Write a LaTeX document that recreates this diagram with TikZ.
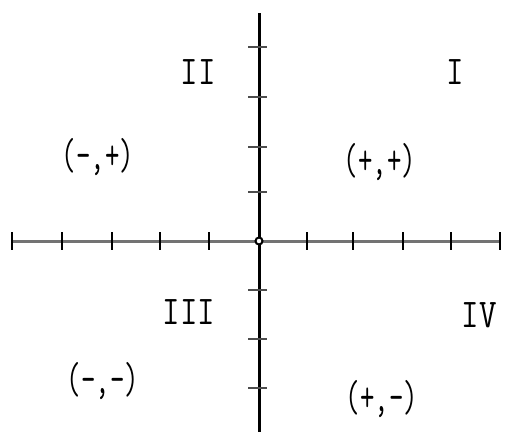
\documentclass[tikz,border=0pt]{standalone}
\usepackage{graphicx}
\newcommand{\alto}[1]{\scalebox{1}[1.6]{#1}}
\tikzset{
  eje/.style    = {line width=3pt, draw=black},
  marca/.style  = {line width=2.5pt, draw=black},
  rotulo/.style = {font=\fontsize{28}{28}\selectfont\ttfamily, inner sep=0pt},
  romano/.style = {rotulo, font=\fontsize{34}{34}\selectfont\ttfamily},
}
\begin{document}
\begin{tikzpicture}[x=1pt,y=-1pt]
    \useasboundingbox (0,0) rectangle (506,434);
    % --- ejes
    \coordinate (o) at (259,241);
    \coordinate (izq) at (12,241);
    \coordinate (der) at (500,241);
    \coordinate (arr) at (259,13);
    \coordinate (aba) at (259,432);
    \draw[eje, draw=black!55] (izq) -- (der);
    \draw[eje] (arr) -- (aba);

    % --- marcas
    \foreach \x in {12,62,112,160,209,307,353,403,451,500}
      \draw[marca] (\x,232) -- (\x,250);
    \foreach \y in {47,97,147,192,290,339,388}
      \draw[marca, draw=black!70] (248,\y) -- (267,\y);
    \draw[line width=2pt, fill=white] (o) circle (3.5);

    % --- cuadrantes
    \node[romano] (q1) at (455,72) {\scalebox{1}[1.2]{I}};
    \node[romano] (q2) at (198,72) {\scalebox{1}[1.2]{II}};
    \node[romano] (q3) at (189,312) {\scalebox{1}[1.2]{III}};
    \node[romano] (q4) at (479,315) {\scalebox{1}[1.2]{IV}};

    % --- signos
    \node[rotulo] (s1) at (380,162) {\alto{(+,+)}};
    \node[rotulo] (s2) at (98,157) {\alto{(-,+)}};
    \node[rotulo] (s3) at (103,381) {\alto{(-,-)}};
    \node[rotulo] (s4) at (382,399) {\alto{(+,-)}};
\end{tikzpicture}
\end{document}
